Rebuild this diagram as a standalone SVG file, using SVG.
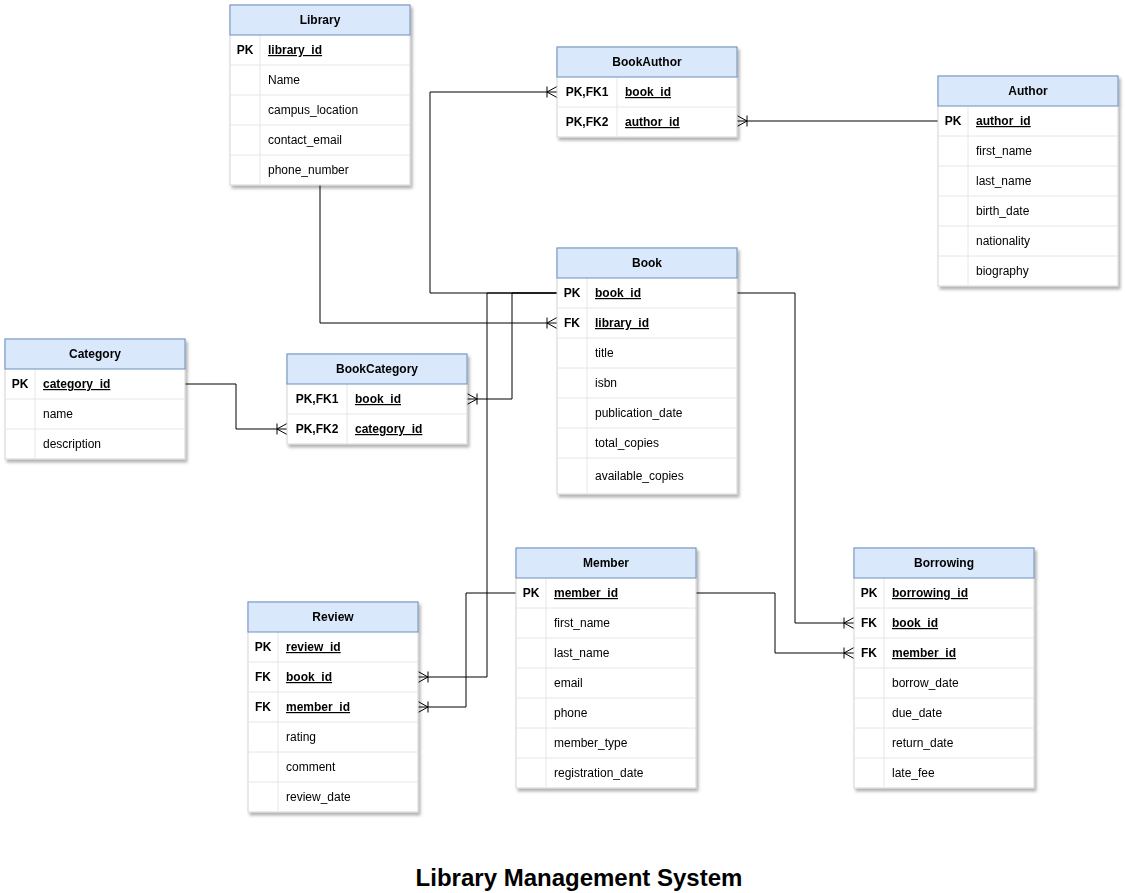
<svg xmlns="http://www.w3.org/2000/svg" width="1125" height="893" viewBox="0 0 1125 893">
<defs>
<filter id="sh" x="-10%" y="-10%" width="130%" height="130%">
<feDropShadow dx="2" dy="3" stdDeviation="1.5" flood-color="#000" flood-opacity="0.3"/>
</filter>
<marker id="crow" markerUnits="userSpaceOnUse" viewBox="0 0 12 12" refX="10" refY="6" markerWidth="12" markerHeight="12" orient="auto" overflow="visible">
<path d="M0 6 L10 0.5 M0 6 L10 11.5 M0 0.5 V11.5" fill="none" stroke="#000" stroke-width="1"/>
</marker>
</defs>
<style>
text{font-family:"Liberation Sans",Arial,sans-serif;font-size:12px;fill:#000}
.ht{font-weight:bold;text-anchor:middle}
.k{font-weight:bold;text-anchor:middle}
.pk{font-weight:bold;text-decoration:underline}
.body{fill:#fff;stroke:#d4d4d4;stroke-width:1}
.hdr{fill:#dae8fc;stroke:#6c8ebf;stroke-width:1}
.dv{stroke:#e6e6e6;stroke-width:1}
.c{fill:none;stroke:#000;stroke-width:1;marker-end:url(#crow)}
.title{font-size:24px;font-weight:bold;text-anchor:middle}
</style>

<g id="connectors">
<path class="c" d="M320 185 V323 H557"/>
<path class="c" d="M557 293 H430 V92 H557"/>
<path class="c" d="M938 121 H737"/>
<path class="c" d="M557 293 H512 V399 H467"/>
<path class="c" d="M185 384 H236 V429 H287"/>
<path class="c" d="M557 293 H487 V677 H418"/>
<path class="c" d="M516 593 H466 V707 H418"/>
<path class="c" d="M737 293 H795 V623 H854"/>
<path class="c" d="M696 593 H775 V653 H854"/>
</g>

<g id="library" filter="url(#sh)">
<rect class="body" x="230" y="5" width="180" height="180"/>
<line class="dv" x1="230" y1="65" x2="410" y2="65"/>
<line class="dv" x1="230" y1="95" x2="410" y2="95"/>
<line class="dv" x1="230" y1="125" x2="410" y2="125"/>
<line class="dv" x1="230" y1="155" x2="410" y2="155"/>
<line class="dv" x1="260" y1="35" x2="260" y2="185"/>
<rect class="hdr" x="230" y="5" width="180" height="30"/>
<text class="ht" x="320" y="24">Library</text>
<text class="k" x="245" y="54">PK</text>
<text class="pk" x="268" y="54">library_id</text>
<text x="268" y="84">Name</text>
<text x="268" y="114">campus_location</text>
<text x="268" y="144">contact_email</text>
<text x="268" y="174">phone_number</text>
</g>

<g id="bookauthor" filter="url(#sh)">
<rect class="body" x="557" y="47" width="180" height="90"/>
<line class="dv" x1="557" y1="107" x2="737" y2="107"/>
<line class="dv" x1="617" y1="77" x2="617" y2="137"/>
<rect class="hdr" x="557" y="47" width="180" height="30"/>
<text class="ht" x="647" y="66">BookAuthor</text>
<text class="k" x="587" y="96">PK,FK1</text>
<text class="pk" x="625" y="96">book_id</text>
<text class="k" x="587" y="126">PK,FK2</text>
<text class="pk" x="625" y="126">author_id</text>
</g>

<g id="author" filter="url(#sh)">
<rect class="body" x="938" y="76" width="180" height="210"/>
<line class="dv" x1="938" y1="136" x2="1118" y2="136"/>
<line class="dv" x1="938" y1="166" x2="1118" y2="166"/>
<line class="dv" x1="938" y1="196" x2="1118" y2="196"/>
<line class="dv" x1="938" y1="226" x2="1118" y2="226"/>
<line class="dv" x1="938" y1="256" x2="1118" y2="256"/>
<line class="dv" x1="968" y1="106" x2="968" y2="286"/>
<rect class="hdr" x="938" y="76" width="180" height="30"/>
<text class="ht" x="1028" y="95">Author</text>
<text class="k" x="953" y="125">PK</text>
<text class="pk" x="976" y="125">author_id</text>
<text x="976" y="155">first_name</text>
<text x="976" y="185">last_name</text>
<text x="976" y="215">birth_date</text>
<text x="976" y="245">nationality</text>
<text x="976" y="275">biography</text>
</g>

<g id="book" filter="url(#sh)">
<rect class="body" x="557" y="248" width="180" height="246"/>
<line class="dv" x1="557" y1="308" x2="737" y2="308"/>
<line class="dv" x1="557" y1="338" x2="737" y2="338"/>
<line class="dv" x1="557" y1="368" x2="737" y2="368"/>
<line class="dv" x1="557" y1="398" x2="737" y2="398"/>
<line class="dv" x1="557" y1="428" x2="737" y2="428"/>
<line class="dv" x1="557" y1="458" x2="737" y2="458"/>
<line class="dv" x1="587" y1="278" x2="587" y2="494"/>
<rect class="hdr" x="557" y="248" width="180" height="30"/>
<text class="ht" x="647" y="267">Book</text>
<text class="k" x="572" y="297">PK</text>
<text class="pk" x="595" y="297">book_id</text>
<text class="k" x="572" y="327">FK</text>
<text class="pk" x="595" y="327">library_id</text>
<text x="595" y="357">title</text>
<text x="595" y="387">isbn</text>
<text x="595" y="417">publication_date</text>
<text x="595" y="447">total_copies</text>
<text x="595" y="480">available_copies</text>
</g>

<g id="category" filter="url(#sh)">
<rect class="body" x="5" y="339" width="180" height="120"/>
<line class="dv" x1="5" y1="399" x2="185" y2="399"/>
<line class="dv" x1="5" y1="429" x2="185" y2="429"/>
<line class="dv" x1="35" y1="369" x2="35" y2="459"/>
<rect class="hdr" x="5" y="339" width="180" height="30"/>
<text class="ht" x="95" y="358">Category</text>
<text class="k" x="20" y="388">PK</text>
<text class="pk" x="43" y="388">category_id</text>
<text x="43" y="418">name</text>
<text x="43" y="448">description</text>
</g>

<g id="bookcategory" filter="url(#sh)">
<rect class="body" x="287" y="354" width="180" height="90"/>
<line class="dv" x1="287" y1="414" x2="467" y2="414"/>
<line class="dv" x1="347" y1="384" x2="347" y2="444"/>
<rect class="hdr" x="287" y="354" width="180" height="30"/>
<text class="ht" x="377" y="373">BookCategory</text>
<text class="k" x="317" y="403">PK,FK1</text>
<text class="pk" x="355" y="403">book_id</text>
<text class="k" x="317" y="433">PK,FK2</text>
<text class="pk" x="355" y="433">category_id</text>
</g>

<g id="review" filter="url(#sh)">
<rect class="body" x="248" y="602" width="170" height="210"/>
<line class="dv" x1="248" y1="662" x2="418" y2="662"/>
<line class="dv" x1="248" y1="692" x2="418" y2="692"/>
<line class="dv" x1="248" y1="722" x2="418" y2="722"/>
<line class="dv" x1="248" y1="752" x2="418" y2="752"/>
<line class="dv" x1="248" y1="782" x2="418" y2="782"/>
<line class="dv" x1="278" y1="632" x2="278" y2="812"/>
<rect class="hdr" x="248" y="602" width="170" height="30"/>
<text class="ht" x="333" y="621">Review</text>
<text class="k" x="263" y="651">PK</text>
<text class="pk" x="286" y="651">review_id</text>
<text class="k" x="263" y="681">FK</text>
<text class="pk" x="286" y="681">book_id</text>
<text class="k" x="263" y="711">FK</text>
<text class="pk" x="286" y="711">member_id</text>
<text x="286" y="741">rating</text>
<text x="286" y="771">comment</text>
<text x="286" y="801">review_date</text>
</g>

<g id="member" filter="url(#sh)">
<rect class="body" x="516" y="548" width="180" height="240"/>
<line class="dv" x1="516" y1="608" x2="696" y2="608"/>
<line class="dv" x1="516" y1="638" x2="696" y2="638"/>
<line class="dv" x1="516" y1="668" x2="696" y2="668"/>
<line class="dv" x1="516" y1="698" x2="696" y2="698"/>
<line class="dv" x1="516" y1="728" x2="696" y2="728"/>
<line class="dv" x1="516" y1="758" x2="696" y2="758"/>
<line class="dv" x1="546" y1="578" x2="546" y2="788"/>
<rect class="hdr" x="516" y="548" width="180" height="30"/>
<text class="ht" x="606" y="567">Member</text>
<text class="k" x="531" y="597">PK</text>
<text class="pk" x="554" y="597">member_id</text>
<text x="554" y="627">first_name</text>
<text x="554" y="657">last_name</text>
<text x="554" y="687">email</text>
<text x="554" y="717">phone</text>
<text x="554" y="747">member_type</text>
<text x="554" y="777">registration_date</text>
</g>

<g id="borrowing" filter="url(#sh)">
<rect class="body" x="854" y="548" width="180" height="240"/>
<line class="dv" x1="854" y1="608" x2="1034" y2="608"/>
<line class="dv" x1="854" y1="638" x2="1034" y2="638"/>
<line class="dv" x1="854" y1="668" x2="1034" y2="668"/>
<line class="dv" x1="854" y1="698" x2="1034" y2="698"/>
<line class="dv" x1="854" y1="728" x2="1034" y2="728"/>
<line class="dv" x1="854" y1="758" x2="1034" y2="758"/>
<line class="dv" x1="884" y1="578" x2="884" y2="788"/>
<rect class="hdr" x="854" y="548" width="180" height="30"/>
<text class="ht" x="944" y="567">Borrowing</text>
<text class="k" x="869" y="597">PK</text>
<text class="pk" x="892" y="597">borrowing_id</text>
<text class="k" x="869" y="627">FK</text>
<text class="pk" x="892" y="627">book_id</text>
<text class="k" x="869" y="657">FK</text>
<text class="pk" x="892" y="657">member_id</text>
<text x="892" y="687">borrow_date</text>
<text x="892" y="717">due_date</text>
<text x="892" y="747">return_date</text>
<text x="892" y="777">late_fee</text>
</g>

<text class="title" x="579" y="886">Library Management System</text>
</svg>
